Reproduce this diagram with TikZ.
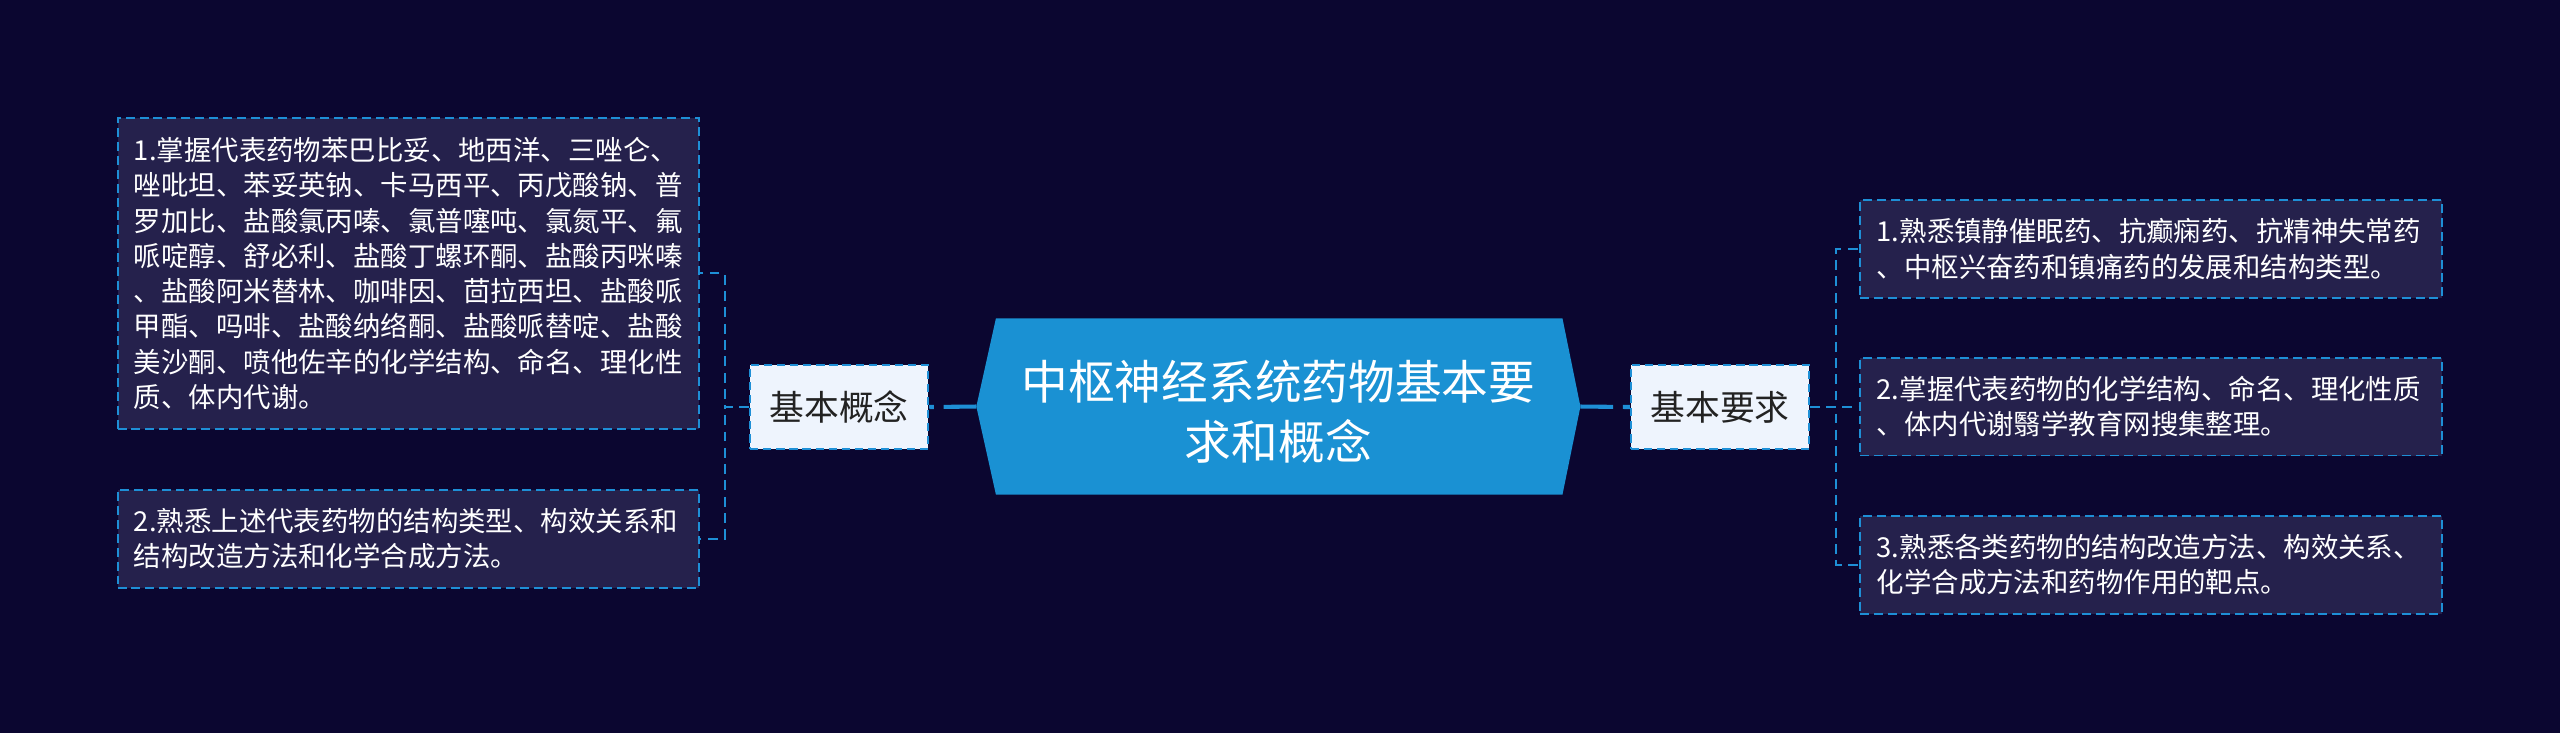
\documentclass[tikz,border=0pt]{standalone}
\usepackage{fontspec}
\setmainfont{Noto Sans CJK SC}
\definecolor{bgc}{HTML}{0B0630}
\definecolor{bord}{HTML}{1E8FD6}
\definecolor{leaffill}{HTML}{25214C}
\definecolor{hexfill}{HTML}{1A91D3}
\definecolor{midfill}{HTML}{EEF4FD}
\definecolor{midtext}{HTML}{222222}
\begin{document}
\begin{tikzpicture}[x=1pt,y=-1pt,
  leaf/.style={draw=bord, fill=leaffill, line width=1.2pt, dash pattern=on 5.5pt off 3pt,
    text=white, inner xsep=10pt, inner ysep=0pt, text width=336pt, align=left,
    font=\fontsize{16.8}{21.6}\selectfont},
  midnode/.style={draw=bord, fill=midfill, line width=1.3pt, dash pattern=on 5pt off 3pt,
    text=midtext, minimum width=109pt, minimum height=51.5pt, inner sep=0pt,
    font=\fontsize{21.3}{25}\selectfont},
  conn/.style={draw=bord, line width=2.5pt, dash pattern=on 20pt off 6pt},
  br/.style={draw=bord, line width=1.2pt, dash pattern=on 6pt off 4pt}]
\useasboundingbox (0,0) rectangle (1568,449);
\fill[bgc] (0,0) rectangle (1568,449);
% centre
\coordinate (hl) at (598,249);
\coordinate (hr) at (968,249);
\fill[hexfill] (hl) -- (610,195) -- (957,195) -- (hr) -- (957,303) -- (610,303) -- cycle;
\node[text=white, align=center, font=\fontsize{28.6}{36.8}\selectfont] (ct) at (783,252)
  {中枢神经系统药物基本要\\求和概念};
% mid nodes
\node[midnode] (jbgn) at (514,249.3) {基本概念};
\node[midnode] (jbyq) at (1053.5,249.3) {基本要求};
% leaves left
\node[leaf, minimum height=191pt] (l1) at (250,167.5) {1.掌握代表药物苯巴比妥、地西洋、三唑仑、\\
唑吡坦、苯妥英钠、卡马西平、丙戊酸钠、普\\
罗加比、盐酸氯丙嗪、氯普噻吨、氯氮平、氟\\
哌啶醇、舒必利、盐酸丁螺环酮、盐酸丙咪嗪\\
、盐酸阿米替林、咖啡因、茴拉西坦、盐酸哌\\
甲酯、吗啡、盐酸纳络酮、盐酸哌替啶、盐酸\\
美沙酮、喷他佐辛的化学结构、命名、理化性\\
质、体内代谢。};
\node[leaf, minimum height=60pt] (l2) at (250,330) {2.熟悉上述代表药物的结构类型、构效关系和\\
结构改造方法和化学合成方法。};
% leaves right
\node[leaf, minimum height=60pt] (r1) at (1317.5,152.5) {1.熟悉镇静催眠药、抗癫痫药、抗精神失常药\\
、中枢兴奋药和镇痛药的发展和结构类型。};
\node[leaf, minimum height=60pt] (r2) at (1317.5,249) {2.掌握代表药物的化学结构、命名、理化性质\\
、体内代谢翳学教育网搜集整理。};
\node[leaf, minimum height=60pt] (r3) at (1317.5,346) {3.熟悉各类药物的结构改造方法、构效关系、\\
化学合成方法和药物作用的靶点。};
% connectors
\draw[conn] (hl) -- (jbgn.east);
\draw[conn] (hr) -- (jbyq.west);
\draw[br] (jbgn.west) -- ++(-15,0) |- (l1.east);
\draw[br] (jbgn.west) -- ++(-15,0) |- (l2.east);
\draw[br] (jbyq.east) -- ++(16,0) |- (r1.west);
\draw[br] (jbyq.east) -- ++(16,0) |- (r2.west);
\draw[br] (jbyq.east) -- ++(16,0) |- (r3.west);
\end{tikzpicture}
\end{document}
